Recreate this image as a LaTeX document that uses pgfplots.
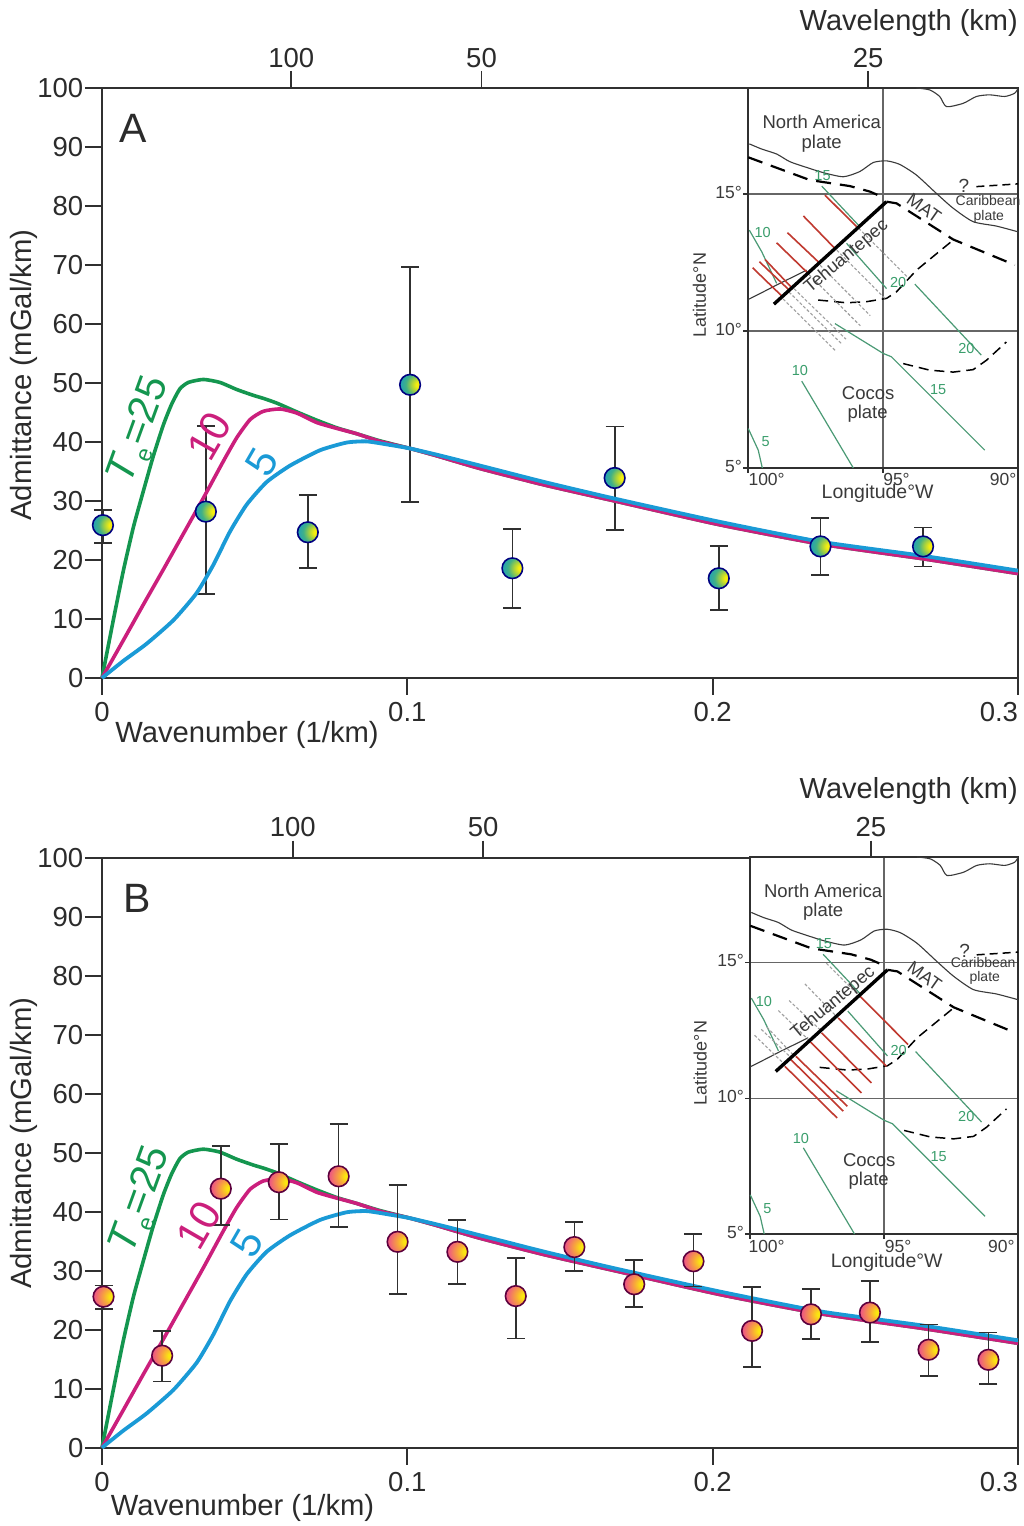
\documentclass[border=0pt]{standalone}
\usepackage{fontspec}
\setmainfont{Liberation Sans}
\usepackage{pgfplots}
\usepackage{pgfplotstable}
\pgfplotsset{compat=1.18}
\definecolor{axc}{HTML}{303030}
\definecolor{txc}{HTML}{2B2B2B}
\definecolor{cgreen}{HTML}{14964F}
\definecolor{cmag}{HTML}{CB1F7C}
\definecolor{cblue}{HTML}{1A9AD6}
\definecolor{mapg}{HTML}{4A9A75}
\definecolor{mapt}{HTML}{3A9E6C}
\definecolor{mapr}{HTML}{C0392F}
\definecolor{mapk}{HTML}{3A3A3A}
\definecolor{gridc}{HTML}{666666}
\definecolor{mapd}{HTML}{A0A0A0}
\definecolor{ba1}{HTML}{F5EE10}
\definecolor{ba2}{HTML}{A4D040}
\definecolor{ba3}{HTML}{3FB088}
\definecolor{ba4}{HTML}{1A9CC6}
\definecolor{ba5}{HTML}{1288CC}
\definecolor{bb1}{HTML}{FBE610}
\definecolor{bb2}{HTML}{F8A83A}
\definecolor{bb3}{HTML}{EE5A80}
\definecolor{bb4}{HTML}{DC3A86}
\definecolor{bb5}{HTML}{D2558A}

\pgfdeclareradialshading{shA}{\pgfpoint{22bp}{0bp}}{
 color(0bp)=(ba1); color(6bp)=(ba1); color(16bp)=(ba2);
 color(27bp)=(ba3); color(42bp)=(ba4); color(75bp)=(ba5); color(100bp)=(ba5)}
\pgfdeclareradialshading{shB}{\pgfpoint{22bp}{0bp}}{
 color(0bp)=(bb1); color(6bp)=(bb1); color(18bp)=(bb2);
 color(36bp)=(bb3); color(50bp)=(bb4); color(75bp)=(bb5); color(100bp)=(bb5)}
\pgfdeclareplotmark{ballA}{\pgfpathcircle{\pgfpointorigin}{\pgfplotmarksize}\pgfshadepath{shA}{0}\pgfusepathqstroke}
\pgfdeclareplotmark{ballB}{\pgfpathcircle{\pgfpointorigin}{\pgfplotmarksize}\pgfshadepath{shB}{0}\pgfusepathqstroke}

% Admittance curves (wavenumber, mGal/km)
\pgfplotstableread{
k v
0 0
.0037 9.8
.0070 18.2
.0103 25.6
.0135 31.6
.0168 37.6
.0201 42.9
.0228 46.4
.0255 49.0
.0283 50.1
.0332 50.6
.0386 50.1
.0441 48.9
.0496 47.9
.0528 47.4
.0572 46.6
.0638 45.1
.0703 43.7
.0769 42.4
.0834 41.4
.0910 40.2
.1009 38.9
.1100 37.6
.1238 35.5
.1450 32.7
.1679 30.0
.2020 26.0
.2353 22.7
.2689 20.2
.3000 17.7
}\tTwentyFive
\pgfplotstableread{
k v
0 0
.0070 6.4
.0135 12.4
.0201 18.4
.0266 24.4
.0332 30.5
.0397 36.7
.0441 40.7
.0485 43.8
.0528 45.2
.0583 45.6
.0638 44.9
.0703 43.3
.0769 42.3
.0834 41.4
.0910 40.1
.1009 38.9
.1100 37.6
.1238 35.5
.1450 32.7
.1679 30.0
.2020 26.0
.2353 22.7
.2689 20.2
.3000 17.7
}\tTen
\pgfplotstableread{
k v
0 0
.0070 2.9
.0146 5.8
.0234 9.8
.0310 14.4
.0365 19.2
.0419 24.8
.0474 29.4
.0539 33.2
.0616 36.0
.0714 38.6
.0801 39.9
.0867 40.1
.0943 39.5
.1009 38.9
.1100 37.8
.1238 36.0
.1450 33.2
.1679 30.4
.2020 26.5
.2353 23.1
.2689 20.7
.3000 18.2
}\tFive
% Observed admittance with upper and lower error-bar ends
\pgfplotstableread{
x y top bot
0.0003 25.9 28.5 22.9
0.0340 28.2 42.7 14.2
0.0674 24.7 31.0 18.6
0.1009 49.7 69.7 29.8
0.1344 18.6 25.2 11.9
0.1679 33.9 42.6 25.1
0.2020 16.9 22.4 11.5
0.2353 22.3 27.1 17.5
0.2689 22.3 25.5 18.9
}\obsA
\pgfplotstableread{
x y top bot
0.0005 25.6 27.5 23.5
0.0197 15.6 19.8 11.2
0.0389 43.9 51.1 37.8
0.0579 45.0 51.5 38.7
0.0775 46.0 54.9 37.4
0.0968 34.9 44.5 26.0
0.1164 33.2 38.6 27.7
0.1355 25.7 32.2 18.5
0.1547 34.0 38.2 29.9
0.1743 27.7 31.8 23.9
0.1937 31.6 36.2 27.3
0.2129 19.8 27.2 13.7
0.2322 22.6 26.9 18.4
0.2515 22.9 28.2 17.9
0.2707 16.6 20.9 12.2
0.2903 14.9 19.5 10.8
}\obsB

\newcommand\curveG{\addplot[cgreen,line width=3.6pt,smooth,tension=.35] table[x=k,y=v]{\tTwentyFive};}
\newcommand\curveM{\addplot[cmag,line width=3.6pt,smooth,tension=.35] table[x=k,y=v]{\tTen};}
\newcommand\curveB{\addplot[cblue,line width=3.8pt,smooth,tension=.35] table[x=k,y=v]{\tFive};}
\newcommand\obs[3]{\addplot[only marks,mark=#2,mark size=10.3pt,draw=#3,line width=1.6pt,
  error bars/.cd,y dir=both,y explicit,
  error bar style={line width=1.7pt,color=axc},
  error mark options={rotate=90,mark size=9pt,line width=1.7pt,color=axc}]
  table[x=x,y=y,y error plus expr=\thisrow{top}-\thisrow{y},y error minus expr=\thisrow{y}-\thisrow{bot}]{#1};}

% Map lines (longitude W, latitude N)
\newcommand\mapbase{
\addplot[mapk,line width=1.1pt,smooth,tension=.4] coordinates {(99.95,16.83)(99.49,16.64)(98.94,16.46)(98.45,16.18)(97.83,15.97)(97.21,15.78)(96.47,15.63)(95.86,15.82)(95.36,16.15)(94.87,16.21)(94.38,16.08)(93.76,15.69)(93.02,15.02)(92.40,14.48)(91.66,13.99)(90.80,13.83)(90.00,13.62)};
\addplot[mapk,line width=1.1pt,smooth,tension=.4] coordinates {(93.76,18.87)(93.27,18.80)(92.90,18.56)(92.65,18.19)(92.03,18.31)(91.54,18.56)(91.05,18.62)(90.49,18.56)(90.12,18.68)(90.00,18.86)};
\addplot[mapk,line width=1.1pt,smooth,tension=.4] coordinates {(99.99,11.15)(99.43,11.43)(98.82,11.74)(98.32,11.98)(97.83,12.22)};
\addplot[mapg,line width=1.2pt] coordinates {(97.27,15.29)(95.86,13.81)};
\addplot[mapg,line width=1.2pt] coordinates {(96.35,13.20)(94.87,11.55)};
\addplot[mapg,line width=1.2pt] coordinates {(93.82,11.71)(91.36,9.12)};
\addplot[mapg,line width=1.2pt] coordinates {(99.95,13.68)(99.49,12.89)(98.94,11.74)};
\addplot[mapg,line width=1.2pt] coordinates {(96.78,10.27)(94.99,9.18)(94.69,9.06)(91.23,5.65)};
\addplot[mapg,line width=1.2pt] coordinates {(98.01,8.17)(96.10,5)};
\addplot[mapg,line width=1.2pt] coordinates {(99.99,6.44)(99.62,5.65)(99.47,5)};
\addplot[black,line width=2.2pt,dash pattern=on 15pt off 9pt] coordinates {(99.99,16.34)(97.71,15.51)(96.23,15.29)(95.49,15.09)(95.0,14.88)};
\addplot[black,line width=2.2pt,dash pattern=on 15pt off 9pt] coordinates {(94.87,14.72)(94.50,14.66)(92.40,13.34)(90.12,12.41)};
\addplot[black,line width=1.5pt,dash pattern=on 10pt off 6pt] coordinates {(97.40,11.13)(96.35,11.03)(95.61,11.07)(94.87,11.19)(94.50,11.43)(93.76,12.22)(92.40,13.32)};
\addplot[black,line width=1.5pt,dash pattern=on 10pt off 6pt] coordinates {(94.25,8.81)(93.27,8.57)(92.40,8.50)(91.66,8.59)(91.17,8.93)(90.43,9.60)};
\addplot[black,line width=1.5pt,dash pattern=on 8pt off 5pt] coordinates {(91.54,15.27)(90.00,15.37)};
}
\newcommand\nwset[1]{
\addplot[#1] coordinates {(97.15,14.96)(95.98,13.81)};
\addplot[#1] coordinates {(97.95,14.20)(96.78,13.01)};
\addplot[#1] coordinates {(98.54,13.59)(97.36,12.49)};
\addplot[#1] coordinates {(98.94,13.22)(97.77,12.10)};
\addplot[#1] coordinates {(99.37,12.61)(98.35,11.55)};
\addplot[#1] coordinates {(99.58,12.53)(98.45,11.47)};
\addplot[#1] coordinates {(99.83,12.31)(98.72,11.25)};
}
\newcommand\seset[1]{
\addplot[#1] coordinates {(95.90,13.75)(94.10,11.97)};
\addplot[#1] coordinates {(96.71,12.95)(94.91,11.17)};
\addplot[#1] coordinates {(97.33,12.40)(95.47,10.56)};
\addplot[#1] coordinates {(97.74,12.06)(95.84,10.19)};
\addplot[#1] coordinates {(98.29,11.54)(96.37,9.70)};
\addplot[#1] coordinates {(98.48,11.42)(96.52,9.52)};
\addplot[#1] coordinates {(98.70,11.17)(96.75,9.27)};
}
\tikzset{
 redl/.style={mapr,line width=1.6pt},
 dashl/.style={mapd,line width=1.1pt,dash pattern=on 3pt off 2pt},
}
\newcommand\tehu{\addplot[black,line width=3.4pt] coordinates {(99.04,10.98)(94.87,14.72)};}

\pgfplotsset{
 mainax/.style={
  scale only axis,width=916pt,height=590pt,xmin=0,xmax=0.3,ymin=0,ymax=100,clip=false,
  axis line style={axc,line width=1.7pt},
  tick style={axc,line width=1.7pt},
  tick align=outside,major tick length=17pt,
  xtick pos=bottom,ytick pos=left,
  xtick={0,0.1,0.2,0.3},xticklabels={0,0.1,0.2,\llap{0.3}},
  ytick={0,10,...,100},
  /pgf/number format/assume math mode=true,
  tick label style={font=\fontsize{27.5}{30}\selectfont,text=txc},
  xticklabel style={yshift=-4pt},
  yticklabel style={inner sep=1.5pt},
  ylabel={Admittance (mGal/km)},
 },
 topax/.style={
  scale only axis,width=916pt,height=590pt,xmin=0,xmax=0.3,ymin=0,ymax=100,
  axis x line*=top,axis y line=none,
  axis line style={axc,line width=1.7pt},
  tick style={axc,line width=1.7pt},
  tick align=outside,major tick length=17pt,
  xticklabels={100,50,25},
  tick label style={font=\fontsize{27.5}{30}\selectfont,text=txc},
 },
 mapax/.style={
  scale only axis,x dir=reverse,xmin=90,xmax=100,ymin=5,ymax=18.87,clip=false,
  axis background/.style={fill=white},
  axis line style={axc,line width=2pt},
  tick style={axc,line width=1.1pt},
  tick align=outside,major tick length=5pt,
  xtick={100,95,90},xticklabels={},
  ytick={5,10,15},yticklabels={5\textdegree,10\textdegree,15\textdegree},
  ytick pos=left,xtick pos=bottom,
  grid=major,grid style={gridc,line width=1.1pt},
  yticklabel style={font=\fontsize{17.5}{19}\selectfont,text=mapk,inner sep=1pt,yshift=2pt},
 },
}
\newcommand\gl[3]{\node[text=mapt,font=\fontsize{14.5}{16}\selectfont,inner sep=0] at (axis cs:#1,#2) {#3};}
\newcommand\ml[3]{\node[text=mapk,font=\fontsize{18.5}{20}\selectfont,inner sep=0] at (axis cs:#1,#2) {#3};}
\newcommand\smt[3]{\node[text=mapk,font=\fontsize{14}{16}\selectfont,inner sep=0] at (axis cs:#1,#2) {#3};}
\newcommand\tkl[3]{\node[text=mapk,font=\fontsize{17.5}{19}\selectfont,inner sep=0] at (axis cs:#1,#2) {#3};}
\newcommand\telabel[2]{\node[font=\fontsize{41}{44}\selectfont,text=cgreen,rotate=70] at (axis cs:#1,#2) {\textit{T}\raisebox{-.25em}{\fontsize{23}{24}\selectfont e}=25};}
\newcommand\curvelab[4]{\node[font=\fontsize{42}{44}\selectfont,text=#1,rotate=60] at (axis cs:#2,#3) {#4};}

\begin{document}
\begin{tikzpicture}[x=1pt,y=1pt]
\path[use as bounding box] (0,0) rectangle (1024,1526);

% ---------- Panel A
\begin{axis}[mainax,at={(102pt,848pt)},anchor=south west,
  xlabel={Wavenumber (1/km)},
  every axis y label/.style={at={(rel axis cs:-0.0852,0.5136)},rotate=90,anchor=center,font=\fontsize{29.3}{30}\selectfont,text=txc},
  every axis x label/.style={at={(rel axis cs:0.1583,-0.110)},anchor=base,font=\fontsize{29.2}{30}\selectfont,text=txc}]
\obs{\obsA}{ballA}{blue!50!black}
\curveG \curveM \curveB
\node[font=\fontsize{41}{44}\selectfont,text=txc] at (axis cs:.01015,93.2) {A};
\telabel{.0128}{41.9}
\curvelab{cmag}{.0352}{41.0}{10}
\curvelab{cblue}{.0525}{36.6}{5}
\end{axis}
\begin{axis}[topax,at={(102pt,848pt)},anchor=south west,clip=false,xtick={.0620,.1243,.2509}]
\node[font=\fontsize{29}{30}\selectfont,text=txc,anchor=base east,inner sep=0] at (rel axis cs:1,1.098) {Wavelength (km)};
\end{axis}
\begin{axis}[mapax,width=270pt,height=380pt,at={(748pt,1058pt)},anchor=south west]
\mapbase
\seset{dashl}
\nwset{redl}
\tehu
\ml{97.27}{17.62}{North America}\ml{97.27}{16.85}{plate}
\gl{97.24}{15.66}{15}
\node[text=mapk,font=\fontsize{19}{20}\selectfont,inner sep=0] at (axis cs:92.0,15.30) {?};
\smt{91.11}{14.76}{Caribbean}\smt{91.08}{14.17}{plate}
\node[text=mapk,font=\fontsize{18}{20}\selectfont,inner sep=0,rotate=-35] at (axis cs:93.48,14.48) {MAT};
\node[text=mapk,font=\fontsize{18}{20}\selectfont,inner sep=0,rotate=40] at (axis cs:96.35,12.71) {Tehuantepec};
\gl{99.46}{13.59}{10}\gl{94.44}{11.77}{20}\gl{91.91}{9.36}{20}\gl{98.08}{8.57}{10}\gl{92.96}{7.86}{15}\gl{99.35}{5.95}{5}
\ml{95.55}{7.72}{Cocos}\ml{95.57}{6.99}{plate}
\tkl{99.31}{4.59}{100\textdegree}\tkl{94.5}{4.59}{95\textdegree}\tkl{90.55}{4.59}{90\textdegree}
\node[text=mapk,font=\fontsize{19.5}{21}\selectfont,inner sep=0] at (axis cs:95.2,4.06) {Longitude\textdegree W};
\node[text=mapk,font=\fontsize{18}{20}\selectfont,inner sep=0,rotate=90] at (axis cs:101.8,11.31) {Latitude\textdegree N};
\end{axis}

% ---------- Panel B
\begin{axis}[mainax,at={(102pt,78.3pt)},anchor=south west,
  xlabel={Wavenumber (1/km)},
  every axis y label/.style={at={(rel axis cs:-0.0852,0.516)},rotate=90,anchor=center,font=\fontsize{29.3}{30}\selectfont,text=txc},
  every axis x label/.style={at={(rel axis cs:0.1534,-0.1156)},anchor=base,font=\fontsize{29.2}{30}\selectfont,text=txc}]
\curveG \curveM \curveB
\obs{\obsB}{ballB}{blue!40!red!60!black}
\node[font=\fontsize{41}{44}\selectfont,text=txc] at (axis cs:.01146,93.06) {B};
\telabel{.0132}{41.9}
\curvelab{cmag}{.0316}{37.7}{10}
\curvelab{cblue}{.0474}{34.6}{5}
\end{axis}
\begin{axis}[topax,at={(102pt,78.3pt)},anchor=south west,clip=false,xtick={.0625,.1248,.2518}]
\node[font=\fontsize{29}{30}\selectfont,text=txc,anchor=base east,inner sep=0] at (rel axis cs:1,1.0999) {Wavelength (km)};
\end{axis}
\begin{axis}[mapax,width=268pt,height=377pt,at={(750pt,292pt)},anchor=south west]
\mapbase
\nwset{dashl}
\seset{redl}
\tehu
\ml{97.27}{17.64}{North America}\ml{97.27}{16.85}{plate}
\gl{97.24}{15.67}{15}
\node[text=mapk,font=\fontsize{19}{20}\selectfont,inner sep=0] at (axis cs:91.99,15.40) {?};
\smt{91.30}{15.0}{Caribbean}\smt{91.24}{14.42}{plate}
\node[text=mapk,font=\fontsize{18}{20}\selectfont,inner sep=0,rotate=-35] at (axis cs:93.48,14.48) {MAT};
\node[text=mapk,font=\fontsize{18}{20}\selectfont,inner sep=0,rotate=40] at (axis cs:96.89,13.50) {Tehuantepec};
\gl{99.48}{13.56}{10}\gl{94.45}{11.75}{20}\gl{91.93}{9.33}{20}\gl{98.10}{8.53}{10}\gl{92.96}{7.86}{15}\gl{99.35}{5.92}{5}
\ml{95.55}{7.70}{Cocos}\ml{95.57}{6.96}{plate}
\tkl{99.38}{4.55}{100\textdegree}\tkl{94.47}{4.55}{95\textdegree}\tkl{90.62}{4.55}{90\textdegree}
\node[text=mapk,font=\fontsize{19.5}{21}\selectfont,inner sep=0] at (axis cs:94.9,3.97) {Longitude\textdegree W};
\node[text=mapk,font=\fontsize{18}{20}\selectfont,inner sep=0,rotate=90] at (axis cs:101.86,11.29) {Latitude\textdegree N};
\end{axis}
\end{tikzpicture}
\end{document}
